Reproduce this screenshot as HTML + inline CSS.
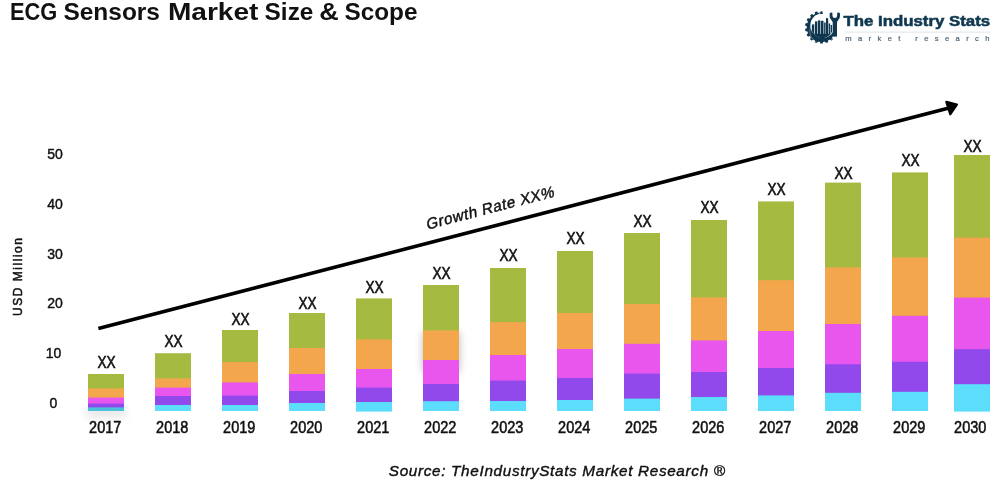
<!DOCTYPE html>
<html><head><meta charset="utf-8"><title>ECG Sensors Market Size &amp; Scope</title>
<style>
html,body{margin:0;padding:0;background:#fff;}
body{width:1000px;height:500px;overflow:hidden;position:relative;font-family:"Liberation Sans",sans-serif;}
svg{position:absolute;left:0;top:0;display:block;will-change:transform;}
text{font-family:"Liberation Sans",sans-serif;}
</style></head><body>
<svg width="1000" height="500" viewBox="0 0 1000 500">
<defs>
<filter id="sh" x="-50%" y="-50%" width="200%" height="200%"><feGaussianBlur stdDeviation="4"/></filter>
</defs>
<rect width="1000" height="500" fill="#ffffff"/>
<text x="9.90" y="19.5" font-size="24" font-weight="bold" fill="#111" textLength="47.30" lengthAdjust="spacingAndGlyphs">ECG</text>
<text x="63.40" y="19.5" font-size="24" font-weight="bold" fill="#111" textLength="96.60" lengthAdjust="spacingAndGlyphs">Sensors</text>
<text x="167.90" y="19.5" font-size="24" font-weight="bold" fill="#111" textLength="90.50" lengthAdjust="spacingAndGlyphs">Market</text>
<text x="264.60" y="19.5" font-size="24" font-weight="bold" fill="#111" textLength="48.80" lengthAdjust="spacingAndGlyphs">Size</text>
<text x="319.20" y="19.5" font-size="24" font-weight="bold" fill="#111" textLength="19.50" lengthAdjust="spacingAndGlyphs">&amp;</text>
<text x="344.50" y="19.5" font-size="24" font-weight="bold" fill="#111" textLength="73.00" lengthAdjust="spacingAndGlyphs">Scope</text>
<text x="55.1" y="159.0" font-size="15.5" text-anchor="middle" fill="#111" stroke="#111" stroke-width="0.45" textLength="15.6" lengthAdjust="spacingAndGlyphs">50</text>
<text x="55.1" y="209.0" font-size="15.5" text-anchor="middle" fill="#111" stroke="#111" stroke-width="0.45" textLength="15.6" lengthAdjust="spacingAndGlyphs">40</text>
<text x="55.1" y="259.0" font-size="15.5" text-anchor="middle" fill="#111" stroke="#111" stroke-width="0.45" textLength="15.6" lengthAdjust="spacingAndGlyphs">30</text>
<text x="55.1" y="308.0" font-size="15.5" text-anchor="middle" fill="#111" stroke="#111" stroke-width="0.45" textLength="15.6" lengthAdjust="spacingAndGlyphs">20</text>
<text x="53.5" y="358.0" font-size="15.5" text-anchor="middle" fill="#111" stroke="#111" stroke-width="0.45" textLength="15.6" lengthAdjust="spacingAndGlyphs">10</text>
<text x="53.5" y="408.0" font-size="15.5" text-anchor="middle" fill="#111" stroke="#111" stroke-width="0.45" textLength="7.8" lengthAdjust="spacingAndGlyphs">0</text>
<text transform="translate(22.3,277) rotate(-90)" font-size="12" text-anchor="middle" fill="#111" stroke="#111" stroke-width="0.5" textLength="78" lengthAdjust="spacing">USD Million</text>
<rect x="423" y="332" width="36" height="40" fill="#000" opacity="0.28" filter="url(#sh)"/>
<rect x="86" y="408" width="40" height="9" fill="#000" opacity="0.10" filter="url(#sh)"/>
<rect x="88" y="374.0" width="36" height="15.6" fill="#a4ba41"/><rect x="88" y="388.4" width="36" height="10.4" fill="#f3a64b"/><rect x="88" y="397.6" width="36" height="7.2" fill="#e856ee"/><rect x="88" y="403.6" width="36" height="5.0" fill="#9149ec"/><rect x="88" y="407.4" width="36" height="3.6" fill="#4cc0d9"/>
<text x="106.6" y="368.4" font-size="16.2" text-anchor="middle" fill="#111" stroke="#111" stroke-width="0.55" textLength="18.2" lengthAdjust="spacingAndGlyphs">XX</text>
<text x="105.2" y="433.2" font-size="16.1" text-anchor="middle" fill="#111" stroke="#111" stroke-width="0.55" textLength="32.2" lengthAdjust="spacingAndGlyphs">2017</text>
<rect x="155" y="353.2" width="36" height="26.4" fill="#a4ba41"/><rect x="155" y="378.4" width="36" height="10.4" fill="#f3a64b"/><rect x="155" y="387.6" width="36" height="9.6" fill="#e856ee"/><rect x="155" y="396.0" width="36" height="10.2" fill="#9149ec"/><rect x="155" y="405.0" width="36" height="6.0" fill="#5bddfb"/>
<text x="173.6" y="346.8" font-size="16.2" text-anchor="middle" fill="#111" stroke="#111" stroke-width="0.55" textLength="18.2" lengthAdjust="spacingAndGlyphs">XX</text>
<text x="172.2" y="433.2" font-size="16.1" text-anchor="middle" fill="#111" stroke="#111" stroke-width="0.55" textLength="32.2" lengthAdjust="spacingAndGlyphs">2018</text>
<rect x="222" y="330.0" width="36" height="33.2" fill="#a4ba41"/><rect x="222" y="362.0" width="36" height="21.6" fill="#f3a64b"/><rect x="222" y="382.4" width="36" height="14.4" fill="#e856ee"/><rect x="222" y="395.6" width="36" height="10.6" fill="#9149ec"/><rect x="222" y="405.0" width="36" height="6.0" fill="#5bddfb"/>
<text x="240.6" y="325.4" font-size="16.2" text-anchor="middle" fill="#111" stroke="#111" stroke-width="0.55" textLength="18.2" lengthAdjust="spacingAndGlyphs">XX</text>
<text x="239.2" y="433.2" font-size="16.1" text-anchor="middle" fill="#111" stroke="#111" stroke-width="0.55" textLength="32.2" lengthAdjust="spacingAndGlyphs">2019</text>
<rect x="289" y="313.0" width="36" height="36.2" fill="#a4ba41"/><rect x="289" y="348.0" width="36" height="27.2" fill="#f3a64b"/><rect x="289" y="374.0" width="36" height="18.2" fill="#e856ee"/><rect x="289" y="391.0" width="36" height="13.2" fill="#9149ec"/><rect x="289" y="403.0" width="36" height="8.0" fill="#5bddfb"/>
<text x="307.6" y="309.2" font-size="16.2" text-anchor="middle" fill="#111" stroke="#111" stroke-width="0.55" textLength="18.2" lengthAdjust="spacingAndGlyphs">XX</text>
<text x="306.2" y="433.2" font-size="16.1" text-anchor="middle" fill="#111" stroke="#111" stroke-width="0.55" textLength="32.2" lengthAdjust="spacingAndGlyphs">2020</text>
<rect x="356" y="298.4" width="36" height="42.2" fill="#a4ba41"/><rect x="356" y="339.4" width="36" height="30.8" fill="#f3a64b"/><rect x="356" y="369.0" width="36" height="19.8" fill="#e856ee"/><rect x="356" y="387.6" width="36" height="15.6" fill="#9149ec"/><rect x="356" y="402.0" width="36" height="9.6" fill="#5bddfb"/>
<text x="374.6" y="292.8" font-size="16.2" text-anchor="middle" fill="#111" stroke="#111" stroke-width="0.55" textLength="18.2" lengthAdjust="spacingAndGlyphs">XX</text>
<text x="373.2" y="433.2" font-size="16.1" text-anchor="middle" fill="#111" stroke="#111" stroke-width="0.55" textLength="32.2" lengthAdjust="spacingAndGlyphs">2021</text>
<rect x="423" y="285.0" width="36" height="46.6" fill="#a4ba41"/><rect x="423" y="330.4" width="36" height="30.8" fill="#f3a64b"/><rect x="423" y="360.0" width="36" height="25.2" fill="#e856ee"/><rect x="423" y="384.0" width="36" height="18.4" fill="#9149ec"/><rect x="423" y="401.2" width="36" height="9.8" fill="#5bddfb"/>
<text x="441.6" y="279.0" font-size="16.2" text-anchor="middle" fill="#111" stroke="#111" stroke-width="0.55" textLength="18.2" lengthAdjust="spacingAndGlyphs">XX</text>
<text x="440.2" y="433.2" font-size="16.1" text-anchor="middle" fill="#111" stroke="#111" stroke-width="0.55" textLength="32.2" lengthAdjust="spacingAndGlyphs">2022</text>
<rect x="490" y="268.0" width="36" height="55.2" fill="#a4ba41"/><rect x="490" y="322.0" width="36" height="34.2" fill="#f3a64b"/><rect x="490" y="355.0" width="36" height="26.8" fill="#e856ee"/><rect x="490" y="380.6" width="36" height="21.6" fill="#9149ec"/><rect x="490" y="401.0" width="36" height="10.0" fill="#5bddfb"/>
<text x="508.6" y="261.0" font-size="16.2" text-anchor="middle" fill="#111" stroke="#111" stroke-width="0.55" textLength="18.2" lengthAdjust="spacingAndGlyphs">XX</text>
<text x="507.2" y="433.2" font-size="16.1" text-anchor="middle" fill="#111" stroke="#111" stroke-width="0.55" textLength="32.2" lengthAdjust="spacingAndGlyphs">2023</text>
<rect x="557" y="251.0" width="36" height="63.2" fill="#a4ba41"/><rect x="557" y="313.0" width="36" height="37.2" fill="#f3a64b"/><rect x="557" y="349.0" width="36" height="30.2" fill="#e856ee"/><rect x="557" y="378.0" width="36" height="23.2" fill="#9149ec"/><rect x="557" y="400.0" width="36" height="11.0" fill="#5bddfb"/>
<text x="575.6" y="244.0" font-size="16.2" text-anchor="middle" fill="#111" stroke="#111" stroke-width="0.55" textLength="18.2" lengthAdjust="spacingAndGlyphs">XX</text>
<text x="574.2" y="433.2" font-size="16.1" text-anchor="middle" fill="#111" stroke="#111" stroke-width="0.55" textLength="32.2" lengthAdjust="spacingAndGlyphs">2024</text>
<rect x="624" y="233.0" width="36" height="72.2" fill="#a4ba41"/><rect x="624" y="304.0" width="36" height="41.0" fill="#f3a64b"/><rect x="624" y="343.8" width="36" height="31.0" fill="#e856ee"/><rect x="624" y="373.6" width="36" height="26.2" fill="#9149ec"/><rect x="624" y="398.6" width="36" height="12.4" fill="#5bddfb"/>
<text x="642.6" y="226.7" font-size="16.2" text-anchor="middle" fill="#111" stroke="#111" stroke-width="0.55" textLength="18.2" lengthAdjust="spacingAndGlyphs">XX</text>
<text x="641.2" y="433.2" font-size="16.1" text-anchor="middle" fill="#111" stroke="#111" stroke-width="0.55" textLength="32.2" lengthAdjust="spacingAndGlyphs">2025</text>
<rect x="691" y="220.0" width="36" height="78.6" fill="#a4ba41"/><rect x="691" y="297.4" width="36" height="44.2" fill="#f3a64b"/><rect x="691" y="340.4" width="36" height="32.8" fill="#e856ee"/><rect x="691" y="372.0" width="36" height="26.2" fill="#9149ec"/><rect x="691" y="397.0" width="36" height="14.0" fill="#5bddfb"/>
<text x="709.6" y="212.8" font-size="16.2" text-anchor="middle" fill="#111" stroke="#111" stroke-width="0.55" textLength="18.2" lengthAdjust="spacingAndGlyphs">XX</text>
<text x="708.2" y="433.2" font-size="16.1" text-anchor="middle" fill="#111" stroke="#111" stroke-width="0.55" textLength="32.2" lengthAdjust="spacingAndGlyphs">2026</text>
<rect x="758" y="201.4" width="36" height="80.0" fill="#a4ba41"/><rect x="758" y="280.2" width="36" height="52.0" fill="#f3a64b"/><rect x="758" y="331.0" width="36" height="38.2" fill="#e856ee"/><rect x="758" y="368.0" width="36" height="28.6" fill="#9149ec"/><rect x="758" y="395.4" width="36" height="15.6" fill="#5bddfb"/>
<text x="776.6" y="195.0" font-size="16.2" text-anchor="middle" fill="#111" stroke="#111" stroke-width="0.55" textLength="18.2" lengthAdjust="spacingAndGlyphs">XX</text>
<text x="775.2" y="433.2" font-size="16.1" text-anchor="middle" fill="#111" stroke="#111" stroke-width="0.55" textLength="32.2" lengthAdjust="spacingAndGlyphs">2027</text>
<rect x="825" y="182.6" width="36" height="86.0" fill="#a4ba41"/><rect x="825" y="267.4" width="36" height="57.8" fill="#f3a64b"/><rect x="825" y="324.0" width="36" height="41.5" fill="#e856ee"/><rect x="825" y="364.3" width="36" height="29.7" fill="#9149ec"/><rect x="825" y="392.8" width="36" height="18.2" fill="#5bddfb"/>
<text x="843.6" y="178.8" font-size="16.2" text-anchor="middle" fill="#111" stroke="#111" stroke-width="0.55" textLength="18.2" lengthAdjust="spacingAndGlyphs">XX</text>
<text x="842.2" y="433.2" font-size="16.1" text-anchor="middle" fill="#111" stroke="#111" stroke-width="0.55" textLength="32.2" lengthAdjust="spacingAndGlyphs">2028</text>
<rect x="892" y="172.4" width="36" height="86.2" fill="#a4ba41"/><rect x="892" y="257.4" width="36" height="59.6" fill="#f3a64b"/><rect x="892" y="315.8" width="36" height="47.2" fill="#e856ee"/><rect x="892" y="361.8" width="36" height="31.2" fill="#9149ec"/><rect x="892" y="391.8" width="36" height="19.2" fill="#5bddfb"/>
<text x="910.6" y="166.4" font-size="16.2" text-anchor="middle" fill="#111" stroke="#111" stroke-width="0.55" textLength="18.2" lengthAdjust="spacingAndGlyphs">XX</text>
<text x="909.2" y="433.2" font-size="16.1" text-anchor="middle" fill="#111" stroke="#111" stroke-width="0.55" textLength="32.2" lengthAdjust="spacingAndGlyphs">2029</text>
<rect x="954" y="155.0" width="36" height="83.8" fill="#a4ba41"/><rect x="954" y="237.6" width="36" height="61.2" fill="#f3a64b"/><rect x="954" y="297.6" width="36" height="52.8" fill="#e856ee"/><rect x="954" y="349.2" width="36" height="36.2" fill="#9149ec"/><rect x="954" y="384.2" width="36" height="27.4" fill="#5bddfb"/>
<text x="972.6" y="152.0" font-size="16.2" text-anchor="middle" fill="#111" stroke="#111" stroke-width="0.55" textLength="18.2" lengthAdjust="spacingAndGlyphs">XX</text>
<text x="970.2" y="433.2" font-size="16.1" text-anchor="middle" fill="#111" stroke="#111" stroke-width="0.55" textLength="32.2" lengthAdjust="spacingAndGlyphs">2030</text>
<line x1="98.4" y1="328.6" x2="949" y2="107.9" stroke="#000" stroke-width="3.6"/>
<polygon points="956.8,104.6 946.4,102.0 950.3,114.2" fill="#000" stroke="#000" stroke-width="2.4" stroke-linejoin="round"/>
<text transform="matrix(0.97,-0.2517,0.07,1.03,490.8,213.1)" x="0" y="0" font-size="15.2" text-anchor="middle" fill="#111" stroke="#111" stroke-width="0.45" textLength="131.5" lengthAdjust="spacing">Growth Rate XX%</text>
<text x="388.8" y="476.4" font-size="15.3" font-style="italic" fill="#111" stroke="#111" stroke-width="0.4" textLength="336.2" lengthAdjust="spacing">Source: TheIndustryStats Market Research ®</text>
<clipPath id="lgclip"><path d="M800,0 L821.5,0 L821.5,27.3 L850,39.3 L850,50 L800,50 Z"/></clipPath>
<g id="logo" fill="#0f3850">
<path d="M834.90,25.40 L837.50,26.05 Q838.00,26.05 838.00,26.55 L838.00,28.05 Q838.00,28.55 837.50,28.55 L834.90,29.20 Z" transform="rotate(30 821.5 27.3)"/>
<path d="M834.90,25.40 L837.50,26.05 Q838.00,26.05 838.00,26.55 L838.00,28.05 Q838.00,28.55 837.50,28.55 L834.90,29.20 Z" transform="rotate(50 821.5 27.3)"/>
<path d="M834.90,25.40 L837.50,26.05 Q838.00,26.05 838.00,26.55 L838.00,28.05 Q838.00,28.55 837.50,28.55 L834.90,29.20 Z" transform="rotate(70 821.5 27.3)"/>
<path d="M834.90,25.40 L837.50,26.05 Q838.00,26.05 838.00,26.55 L838.00,28.05 Q838.00,28.55 837.50,28.55 L834.90,29.20 Z" transform="rotate(90 821.5 27.3)"/>
<path d="M834.90,25.40 L837.50,26.05 Q838.00,26.05 838.00,26.55 L838.00,28.05 Q838.00,28.55 837.50,28.55 L834.90,29.20 Z" transform="rotate(110 821.5 27.3)"/>
<path d="M834.90,25.40 L837.50,26.05 Q838.00,26.05 838.00,26.55 L838.00,28.05 Q838.00,28.55 837.50,28.55 L834.90,29.20 Z" transform="rotate(130 821.5 27.3)"/>
<path d="M834.90,25.40 L837.50,26.05 Q838.00,26.05 838.00,26.55 L838.00,28.05 Q838.00,28.55 837.50,28.55 L834.90,29.20 Z" transform="rotate(150 821.5 27.3)"/>
<path d="M834.90,25.40 L837.50,26.05 Q838.00,26.05 838.00,26.55 L838.00,28.05 Q838.00,28.55 837.50,28.55 L834.90,29.20 Z" transform="rotate(170 821.5 27.3)"/>
<path d="M834.90,25.40 L837.50,26.05 Q838.00,26.05 838.00,26.55 L838.00,28.05 Q838.00,28.55 837.50,28.55 L834.90,29.20 Z" transform="rotate(190 821.5 27.3)"/>
<path d="M834.90,25.40 L837.50,26.05 Q838.00,26.05 838.00,26.55 L838.00,28.05 Q838.00,28.55 837.50,28.55 L834.90,29.20 Z" transform="rotate(210 821.5 27.3)"/>
<path d="M834.90,25.40 L837.50,26.05 Q838.00,26.05 838.00,26.55 L838.00,28.05 Q838.00,28.55 837.50,28.55 L834.90,29.20 Z" transform="rotate(230 821.5 27.3)"/>
<path d="M834.90,25.40 L837.50,26.05 Q838.00,26.05 838.00,26.55 L838.00,28.05 Q838.00,28.55 837.50,28.55 L834.90,29.20 Z" transform="rotate(250 821.5 27.3)"/>
<path d="M834.90,25.88 L837.00,26.36 Q837.50,26.36 837.50,26.86 L837.50,27.74 Q837.50,28.24 837.00,28.24 L834.90,28.73 Z" transform="rotate(270 821.5 27.3)"/>
<path fill-rule="evenodd" clip-path="url(#lgclip)" d="M806.80,27.3 a14.7,14.7 0 1,0 29.4,0 a14.7,14.7 0 1,0 -29.4,0 Z M810.31,25.45 a12.35,12.35 0 1,1 24.7,0 a12.35,12.35 0 1,1 -24.7,0 Z"/>
<clipPath id="inner"><circle cx="822.2" cy="27.5" r="10.7"/></clipPath>
<g clip-path="url(#inner)">
<rect x="811.5" y="33.80" width="21.4" height="10.7"/>
<rect x="811.6" y="24.4" width="2.7" height="9.60"/>
<rect x="815.0" y="21.4" width="2.3" height="12.60"/>
<rect x="817.9" y="20.4" width="2.5" height="13.60"/>
<rect x="821.0" y="20.8" width="2.5" height="13.20"/>
<rect x="824.1" y="22.5" width="1.5" height="11.50"/>
<rect x="826.0" y="18.0" width="2.2" height="16.00"/>
<rect x="828.7" y="23.5" width="1.5" height="10.50"/>
<rect x="830.7" y="25" width="1.4" height="9.00"/>
</g>
<path d="M810.6,26.5 A11.6,11.6 0 0,0 834.0,35.8" fill="none" stroke="#ffffff" stroke-opacity="0.55" stroke-width="0.6"/>
<path d="M829.8,13.0 Q830.8,12.1 832.3,12.5 L832.5,16 Q832.6,17.9 834.8,17.9 Q837,17.9 837.1,16 L837.3,12.5 Q838.8,12.1 839.8,13.0 Q840.6,17.5 838.5,19.8 Q837.4,21 837,22.2 L837,36.4 L832.7,36.4 L832.7,22.2 Q832.2,21 831.1,19.8 Q829,17.5 829.8,13.0 Z"/>
<text x="843.4" y="26.0" font-size="15.1" font-weight="bold" textLength="146.8" lengthAdjust="spacingAndGlyphs" fill="#0f3850" stroke="#0f3850" stroke-width="0.55">The Industry Stats</text>
<rect x="845" y="31.6" width="145" height="1" fill="#dfe5e9"/>
<text x="845.3" y="40.7" font-size="7.6" textLength="144.2" lengthAdjust="spacing" fill="#4c6578" stroke="#4c6578" stroke-width="0.2">market research</text>
</g>
</svg>
</body></html>
